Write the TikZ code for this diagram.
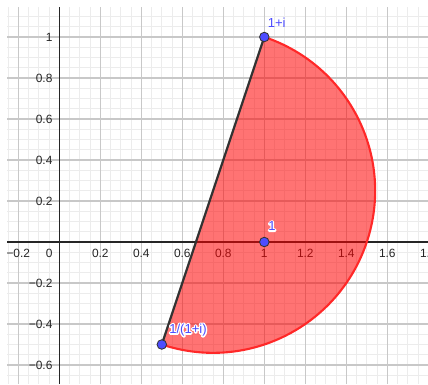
\documentclass[tikz,border=0pt]{standalone}
\usepackage{fontspec}
\setmainfont{Liberation Sans}
\newcommand{\halotext}[1]{\rlap{\color{white}\special{pdf:literal direct 2 Tr 2 w 1 J 1 j}#1\special{pdf:literal direct 0 Tr 1 w}}#1}
\definecolor{gridminor}{RGB}{236,236,236}
\definecolor{gridmajor}{RGB}{200,200,200}
\definecolor{axiscol}{RGB}{38,38,38}
\definecolor{ptblue}{RGB}{77,77,255}
\definecolor{arcred}{RGB}{255,40,40}
\definecolor{chordcol}{RGB}{51,51,51}
\tikzset{
  minorgrid/.style={draw=gridminor, line width=0.7pt},
  majorgrid/.style={draw=gridmajor, line width=0.8pt},
  axisline/.style={draw=axiscol, line width=0.8pt},
  ticklab/.style={font=\fontsize{8.5}{10}\selectfont, text=black!85, inner sep=0pt},
  sectorfill/.style={fill=red, fill opacity=0.55},
  arcline/.style={draw=arcred, line width=1.5pt},
  chordline/.style={draw=chordcol, line width=1.6pt},
  ptnode/.style={circle, fill=ptblue, draw=black!80, line width=0.6pt, minimum size=6.8pt, inner sep=0pt},
  ptlab/.style={font=\fontsize{9.3}{11}\selectfont, text=ptblue, inner sep=0pt}
}
\begin{document}
\begin{tikzpicture}[x=5.125cm,y=5.125cm]
\clip (-0.2893,-0.6927) rectangle (1.7985,1.1805);
\fill[white] (-0.2893,-0.6927) rectangle (1.7985,1.1805);
% grid
\draw[minorgrid, step=0.05] (-0.255,-0.6927) grid (1.7985,1.146);
\draw[majorgrid, step=0.2] (-0.255,-0.6927) grid (1.7985,1.146);
% axes
\draw[axisline] (-0.255,0) -- (1.7985,0);
\draw[axisline] (0,1.146) -- (0,-0.6927);
% tick labels
\foreach \v/\t/\n in {-0.2/−0.2/m2, 0.2/0.2/p2, 0.4/0.4/p4, 0.6/0.6/p6, 0.8/0.8/p8, 1/1/p10, 1.2/1.2/p12, 1.4/1.4/p14, 1.6/1.6/p16, 1.8/1.8/p18}
  \node[ticklab] (tx\n) at (\v,-0.054) {\t};
\node[ticklab] (tx0) at (-0.0488,-0.054) {0};
\foreach \v/\t/\n in {1/1/p10, 0.8/0.8/p8, 0.6/0.6/p6, 0.4/0.4/p4, 0.2/0.2/p2, -0.2/−0.2/m2, -0.4/−0.4/m4, -0.6/−0.6/m6}
  \node[ticklab, anchor=east] (ty\n) at (-0.032,\v) {\t};
% points
\coordinate (ca) at (1,1);
\coordinate (cb) at (0.5,-0.5);
\coordinate (cc) at (1,0);
% sector (half disk, centre (0.75,0.25))
\fill[sectorfill] (ca) arc[start angle=71.565, end angle=-108.435, radius=0.790569] -- cycle;
\draw[chordline] (ca) -- (cb);
\draw[arcline] (ca) arc[start angle=71.565, end angle=-108.435, radius=0.790569];
\node[ptnode] (A) at (ca) {};
\node[ptnode] (B) at (cb) {};
\node[ptnode] (C) at (cc) {};
\node[ptlab] (lA) at (1.0605,1.071) {1+i};
\node[ptlab] (lC) at (1.0376,0.0765) {\halotext{1}};
\node[ptlab] (lB) at (0.6278,-0.4293) {\halotext{1/(1+i)}};
\end{tikzpicture}
\end{document}
